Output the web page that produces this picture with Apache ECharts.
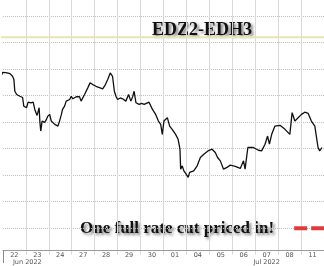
<!DOCTYPE html>
<html>
<head>
<meta charset="utf-8">
<script src="https://cdn.jsdelivr.net/npm/echarts@6/dist/echarts.min.js"></script>
<style>html,body{margin:0;padding:0;background:#fff}#c{width:324px;height:266px}</style>
</head>
<body>
<div id="c"></div>
<script>
// Day labels (one band per trading day)
var dayLabels = ['22','23','24','27','28','29','30','01','04','05','06','07','08','11'];
var monthLabels = {1: 'Jun 2022', 11: 'Jul 2022'};
// Spread path: [day index (fractional), spread bp]
var spreadX = [-0.13,-0.01,0.05,0.13,0.22,0.31,0.42,0.48,0.52,0.60,0.74,0.86,0.91,1.03,1.10,1.22,1.32,1.39,1.49,1.58,1.61,1.65,1.71,1.82,1.90,1.95,2.04,2.11,2.26,2.40,2.47,2.55,2.60,2.69,2.76,2.91,2.98,3.05,3.20,3.34,3.41,3.56,3.70,3.80,3.92,4.06,4.21,4.35,4.47,4.57,4.68,4.78,4.86,4.93,5.00,5.12,5.22,5.36,5.48,5.58,5.66,5.72,5.80,5.94,6.05,6.16,6.37,6.52,6.66,6.78,6.88,6.95,7.02,7.17,7.27,7.38,7.53,7.64,7.72,7.75,7.82,7.89,7.99,8.08,8.14,8.32,8.47,8.61,8.76,8.94,9.12,9.26,9.36,9.48,9.62,9.77,9.91,10.13,10.35,10.49,10.56,10.68,10.92,11.14,11.28,11.43,11.54,11.62,11.72,11.86,12.08,12.30,12.51,12.61,12.73,12.87,13.02,13.16,13.31,13.45,13.60,13.74,13.81,13.91];
var spreadY = [-10.91,-10.32,-10.25,-10.34,-10.39,-10.44,-10.69,-11.00,-12.10,-12.41,-12.57,-12.69,-13.50,-13.65,-13.13,-13.20,-13.13,-13.81,-14.38,-13.65,-14.91,-15.85,-14.91,-15.03,-14.75,-14.47,-14.28,-14.91,-15.22,-15.38,-14.91,-14.28,-13.81,-13.50,-13.03,-12.88,-12.57,-12.81,-12.62,-12.62,-13.03,-12.41,-11.78,-11.31,-11.47,-11.63,-11.75,-11.87,-11.47,-11.00,-10.37,-10.69,-12.10,-12.57,-12.88,-12.73,-12.81,-13.03,-12.41,-13.03,-12.59,-12.10,-13.18,-13.34,-13.25,-13.34,-13.13,-13.81,-14.28,-14.91,-15.22,-16.16,-14.91,-14.59,-15.38,-15.69,-16.16,-16.63,-17.56,-19.44,-19.13,-19.60,-19.91,-20.22,-19.75,-19.60,-19.13,-18.34,-18.03,-17.72,-17.56,-17.87,-18.34,-18.66,-19.44,-19.28,-19.06,-19.18,-19.37,-18.66,-19.44,-17.40,-17.40,-17.66,-17.72,-17.09,-16.32,-17.09,-16.16,-15.38,-15.31,-15.69,-16.16,-14.12,-14.91,-14.59,-14.28,-14.07,-14.19,-14.91,-15.38,-17.40,-17.72,-17.40];
// Reference levels
var yellowLevel = -7;
var cutLevel = -25;
var cutStartDay = 12.7;

var spreadData = spreadX.map(function (x, i) { return [x, spreadY[i]]; });

var chart = echarts.init(document.getElementById('c'));
var shadowStyle = {
  textShadowColor: 'rgba(0,0,0,0.55)', textShadowBlur: 3,
  textShadowOffsetX: 2, textShadowOffsetY: 2
};
chart.setOption({
  backgroundColor: '#ffffff',
  animation: false,
  grid: { left: 2.9, right: -2, top: 0, bottom: 9.33 },
  xAxis: [{
    type: 'value', position: 'top', min: 0, max: 14, interval: 1,
    axisLine: { show: false }, axisTick: { show: false }, axisLabel: { show: false },
    splitLine: { show: true, showMinLine: false, showMaxLine: false,
      lineStyle: { color: '#d9d9d9', width: 1 } }
  }, {
    type: 'category', position: 'bottom', data: dayLabels, boundaryGap: true,
    offset: -4.67,
    axisLine: { show: true, lineStyle: { color: '#9a9a9a', width: 1 } },
    axisTick: { show: true, length: 13, interval: function (i) { return i === 7; },
      lineStyle: { color: '#8a8a8a', width: 1 } },
    splitLine: { show: false },
    axisLabel: {
      interval: 0, margin: 2, fontSize: 6.5, color: '#555', fontFamily: 'DejaVu Sans',
      lineHeight: 7,
      formatter: function (v, i) {
        if (i === 1) return v + '\n{mj|' + monthLabels[i] + '}';
        if (monthLabels[i]) return v + '\n{m|' + monthLabels[i] + '}';
        return v;
      },
      rich: {
        m: { fontSize: 6.5, color: '#555', lineHeight: 7, fontFamily: 'DejaVu Sans' },
        mj: { fontSize: 6.5, color: '#555', lineHeight: 7, fontFamily: 'DejaVu Sans', padding: [0, 20, 0, 0] }
      }
    }
  }],
  yAxis: {
    type: 'value', min: -27.5, max: -3.5, interval: 2.5,
    axisLine: { show: false }, axisTick: { show: false }, axisLabel: { show: false },
    splitLine: { show: true, showMinLine: false, showMaxLine: false,
      lineStyle: { color: '#bdbdbd', width: 1, type: [1, 1] } }
  },
  series: [{
    type: 'line', xAxisIndex: 0, clip: false, showSymbol: false, silent: true,
    data: [[-0.2, yellowLevel], [14.2, yellowLevel]],
    lineStyle: { color: '#e8e4b4', width: 2 }
  }, {
    type: 'line', xAxisIndex: 0, clip: false, showSymbol: false, silent: true,
    data: spreadData,
    lineStyle: { color: '#111111', width: 1.3 }
  }, {
    type: 'line', xAxisIndex: 0, clip: false, showSymbol: false, silent: true,
    data: [[cutStartDay, cutLevel], [14.3, cutLevel]],
    lineStyle: { color: '#e03c3c', width: 4, type: [13, 4] }
  }],
  graphic: [{
    type: 'text', left: 152, top: 21,
    style: Object.assign({
      text: 'EDZ2-EDH3', font: 'bold 18px "Liberation Serif", "DejaVu Serif", serif',
      fill: '#111'
    }, shadowStyle)
  }, {
    type: 'text', left: 80, top: 220,
    style: Object.assign({
      text: 'One full rate cut priced in!', font: 'bold 17px "Liberation Serif", "DejaVu Serif", serif',
      fill: '#111'
    }, shadowStyle)
  }]
});
</script>
</body>
</html>
